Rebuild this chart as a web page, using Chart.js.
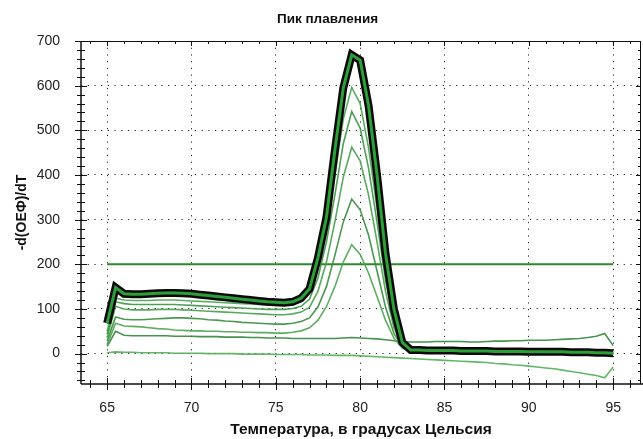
<!DOCTYPE html>
<html>
<head>
<meta charset="utf-8">
<script src="https://cdn.jsdelivr.net/npm/chart.js@4.4.1/dist/chart.umd.min.js"></script>
<style>
  html, body { margin: 0; padding: 0; background: #fff; }
</style>
</head>
<body>
<canvas id="peakChart" width="643" height="439"></canvas>
<script>
// температуры, шаг 0.5 °C
const temps = [65, 65.5, 66, 66.5, 67, 67.5, 68, 68.5, 69, 69.5, 70, 70.5, 71, 71.5, 72, 72.5,
  73, 73.5, 74, 74.5, 75, 75.5, 76, 76.5, 77, 77.5, 78, 78.5, 79, 79.5, 80, 80.5, 81, 81.5,
  82, 82.5, 83, 83.5, 84, 84.5, 85, 85.5, 86, 86.5, 87, 87.5, 88, 88.5, 89, 89.5, 90, 90.5,
  91, 91.5, 92, 92.5, 93, 93.5, 94, 94.5, 95];

// выделенная кривая
const mainCurve = [68, 148, 134, 133, 133, 134, 135, 136, 136, 135, 134, 132, 130, 128, 126, 124,
  122, 120, 118, 116, 115, 114, 116, 124, 145, 215, 305, 455, 595, 669, 657, 555, 400, 225,
  100, 25, 8, 8, 7, 7, 7, 7, 6, 6, 6, 6, 5, 5, 5, 5, 4, 4, 4, 4, 4, 3, 3, 3, 2, 2, 1];

const curveA = [50, 124, 120, 119, 119, 119, 120, 120, 120, 119, 118, 117, 116, 115, 114, 113,
  112, 111, 110, 109, 108, 108, 110, 116, 135, 195, 285, 400, 525, 596, 560, 460, 325, 180,
  75, 22, 7, 7, 6, 6, 6, 6, 5, 5, 5, 5, 4, 4, 4, 4, 3, 3, 3, 3, 3, 2, 2, 2, 1, 1, 0];
const curveB = [44, 116, 112, 110, 110, 110, 110, 110, 110, 109, 108, 107, 106, 105, 104, 103,
  102, 101, 100, 99, 99, 99, 101, 106, 122, 170, 250, 355, 470, 542, 505, 415, 295, 165,
  68, 20, 7, 7, 6, 6, 6, 6, 5, 5, 5, 5, 4, 4, 4, 4, 3, 3, 3, 3, 3, 2, 2, 2, 1, 1, 0];
const curveC = [36, 106, 100, 98, 98, 98, 99, 99, 99, 98, 97, 96, 95, 94, 93, 92,
  91, 90, 89, 88, 87, 87, 89, 93, 104, 140, 205, 295, 395, 462, 432, 355, 250, 140,
  58, 18, 7, 7, 6, 6, 6, 6, 5, 5, 5, 5, 4, 4, 4, 4, 3, 3, 3, 3, 3, 2, 2, 2, 1, 1, 0];
const curveD = [28, 82, 77, 76, 76, 77, 78, 79, 80, 80, 79, 78, 76, 75, 73, 72,
  70, 69, 68, 67, 66, 66, 68, 72, 80, 105, 150, 220, 295, 346, 322, 265, 185, 105,
  45, 15, 7, 7, 6, 6, 6, 6, 5, 5, 5, 5, 4, 4, 4, 4, 3, 3, 3, 3, 3, 2, 2, 2, 1, 1, 0];
const curveE = [20, 68, 62, 61, 60, 58, 56, 55, 53, 52, 51, 51, 50, 50, 49, 49,
  48, 48, 47, 47, 46, 46, 48, 51, 58, 75, 105, 150, 205, 244, 222, 180, 128, 75,
  35, 12, 6, 6, 6, 6, 5, 5, 5, 5, 5, 4, 4, 4, 4, 3, 3, 3, 3, 3, 2, 2, 2, 1, 1, 1, 0];
// кривые без пика
const flatHigh = [16, 50, 41, 40, 40, 40, 40, 40, 39, 39, 39, 38, 38, 38, 37, 37,
  37, 36, 36, 35, 35, 35, 34, 34, 34, 34, 34, 34, 35, 36, 35, 34, 33, 31,
  29, 27, 26, 26, 26, 27, 27, 27, 27, 26, 26, 27, 28, 28, 29, 29, 30, 30, 30, 31, 32, 33, 34, 36, 39, 45, 18];
const flatLow = [2, 4, 3, 3, 2, 2, 2, 2, 1, 1, 1, 1, 0, 0, 0, 0,
  -1, -1, -1, -1, -2, -2, -2, -2, -3, -3, -3, -4, -4, -4, -5, -6, -7, -8,
  -9, -10, -11, -12, -13, -14, -15, -16, -17, -18, -19, -20, -22, -23, -25, -26, -28, -30,
  -32, -34, -37, -40, -43, -46, -49, -54, -30];

// порог
const thresholdX = [65, 95];
const thresholdY = [200, 200];

const xTicks = [65, 70, 75, 80, 85, 90, 95];
const yTicks = [0, 100, 200, 300, 400, 500, 600, 700];

const FONT = "'Liberation Sans', Arial, sans-serif";

function pts(xs, ys) {
  return xs.map((t, i) => ({ x: t, y: ys[i] }));
}

function thin(data, color) {
  return { data: pts(temps, data), borderColor: color, borderWidth: 1.6, pointRadius: 0, tension: 0 };
}

// рамка графика с засечками
const frameTicks = {
  id: 'frameTicks',
  afterDraw(chart) {
    const { ctx, chartArea: a, scales: { x, y } } = chart;
    ctx.save();
    ctx.strokeStyle = '#111';
    ctx.lineWidth = 1;
    ctx.beginPath();
    ctx.moveTo(a.left, a.top + 0.5); ctx.lineTo(a.right, a.top + 0.5);
    ctx.moveTo(a.right - 0.5, a.top); ctx.lineTo(a.right - 0.5, a.bottom);
    ctx.stroke();

    ctx.lineWidth = 1.5;
    ctx.beginPath();
    ctx.moveTo(a.left, a.top); ctx.lineTo(a.left, a.bottom);
    ctx.moveTo(a.left, a.bottom); ctx.lineTo(chart.width, a.bottom);
    ctx.stroke();

    ctx.lineWidth = 1;
    ctx.beginPath();
    for (let v = 64; v <= 96; v++) {
      const px = Math.round(x.getPixelForValue(v)) + 0.5;
      const major = xTicks.includes(v);
      const h = major ? 6 : 4;
      ctx.moveTo(px, a.bottom - h); ctx.lineTo(px, a.bottom + h);
      if (px < a.right - 2) { ctx.moveTo(px, a.top); ctx.lineTo(px, a.top + (major ? 5 : 3)); }
    }
    for (let v = -60; v <= 700; v += 20) {
      const py = Math.round(y.getPixelForValue(v)) + 0.5;
      const major = yTicks.includes(v);
      const w = major ? 6 : 4;
      ctx.moveTo(a.left - w, py); ctx.lineTo(a.left + w, py);
      ctx.moveTo(a.right, py); ctx.lineTo(a.right - (major ? 5 : 3), py);
    }
    ctx.stroke();
    ctx.restore();
  }
};

const ctx = document.getElementById('peakChart').getContext('2d');

new Chart(ctx, {
  type: 'line',
  data: {
    datasets: [
      { data: pts(temps, mainCurve), borderColor: '#2e9e3a', borderWidth: 3, pointRadius: 0, tension: 0 },
      { data: pts(temps, mainCurve), borderColor: '#0a0a0a', borderWidth: 8, pointRadius: 0, tension: 0 },
      thin(curveA, 'rgba(70,165,78,0.9)'),
      thin(curveB, 'rgba(60,150,68,0.9)'),
      thin(curveC, 'rgba(70,160,76,0.9)'),
      thin(curveD, 'rgba(55,140,62,0.9)'),
      thin(curveE, 'rgba(75,165,80,0.9)'),
      thin(flatHigh, 'rgba(50,135,58,0.9)'),
      thin(flatLow, 'rgba(80,175,86,0.9)'),
      { data: pts(thresholdX, thresholdY), borderColor: '#2a8a2a', borderWidth: 2, pointRadius: 0 }
    ]
  },
  options: {
    responsive: false,
    animation: false,
    layout: { padding: { left: 14, right: 2, top: 0, bottom: 0 } },
    plugins: {
      legend: { display: false },
      tooltip: { enabled: false },
      title: {
        display: true,
        text: 'Пик плавления',
        color: '#111',
        font: { family: FONT, size: 13.5, weight: 'bold' },
        padding: { top: 11, bottom: 13.8 }
      }
    },
    scales: {
      x: {
        type: 'linear',
        min: 63.45,
        max: 96.65,
        afterBuildTicks: s => { s.ticks = xTicks.map(v => ({ value: v })); },
        afterFit: s => { s.height = 55; },
        grid: { color: '#222', lineWidth: 1, drawTicks: false },
        border: { display: false, dash: [1.2, 5.5] },
        ticks: { color: '#222', font: { family: FONT, size: 14 }, padding: 16, maxRotation: 0 },
        title: {
          display: true,
          text: 'Температура, в градусах Цельсия',
          color: '#111',
          font: { family: FONT, size: 15.5, weight: 'bold' },
          padding: { top: 0, bottom: 0 }
        }
      },
      y: {
        min: -68,
        max: 700,
        afterBuildTicks: s => { s.ticks = yTicks.map(v => ({ value: v })); },
        afterFit: s => { s.width = 67; },
        grid: { color: '#222', lineWidth: 1, drawTicks: false },
        border: { display: false, dash: [1.2, 5.5] },
        ticks: { color: '#222', font: { family: FONT, size: 14 }, padding: 21 },
        title: {
          display: true,
          text: '-d(ОЕФ)/dT',
          color: '#111',
          font: { family: FONT, size: 14, weight: 'bold' },
          padding: { top: 0, bottom: 0 }
        }
      }
    }
  },
  plugins: [frameTicks]
});
</script>
</body>
</html>
